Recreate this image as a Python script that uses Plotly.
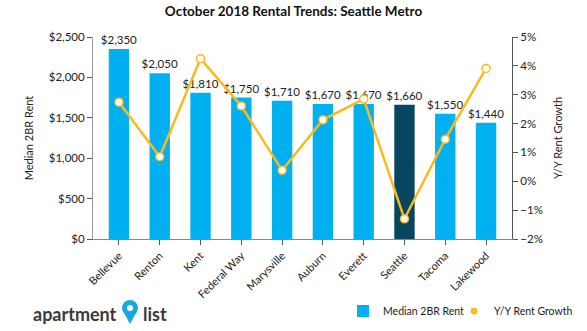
import plotly.graph_objects as go

cities = ["Bellevue", "Renton", "Kent", "Federal Way", "Marysville", "Auburn",
          "Everett", "Seattle", "Tacoma", "Lakewood"]
median_rent = [2350, 2050, 1810, 1750, 1710, 1670, 1670, 1660, 1550, 1440]
yoy_growth = [2.74, 0.85, 4.25, 2.61, 0.38, 2.13, 2.85, -1.30, 1.46, 3.91]

LIGHT = "#00b0f0"
DARK = "#06475f"
GOLD = "#fbb91e"
bar_colors = [DARK if c == "Seattle" else LIGHT for c in cities]
FONT = "Lato"

L, R, T, B = 93, 75, 37, 92
PW, PH = 587 - L - R, 331 - T - B


def px(x):
    return (x - L) / PW


def py(y):
    return (331 - B - y) / PH


fig = go.Figure()
fig.add_trace(go.Bar(
    x=cities, y=median_rent, name="Median 2BR Rent",
    marker=dict(color=bar_colors, line=dict(width=0)), width=0.5,
    text=[f"${v:,}" for v in median_rent], textposition="outside",
    constraintext="none",
    textfont=dict(size=11.5, color="#222", family=FONT), cliponaxis=False,
    yaxis="y", legend="legend",
))
fig.add_trace(go.Scatter(
    x=cities, y=yoy_growth, name="Y/Y Rent Growth", mode="lines+markers",
    line=dict(color=GOLD, width=2.5),
    marker=dict(size=8, color="white", line=dict(color=GOLD, width=1.5)),
    yaxis="y2", showlegend=False,
))
fig.add_trace(go.Scatter(
    x=[None], y=[None], name="Y/Y Rent Growth", mode="markers",
    marker=dict(size=7, color=GOLD), yaxis="y2", legend="legend2",
))

legend_common = dict(orientation="h", yanchor="middle", xanchor="left",
                     font=dict(size=10.5, family=FONT, color="#222"),
                     itemwidth=30, bgcolor="rgba(0,0,0,0)")

fig.update_layout(
    width=587, height=331,
    margin=dict(l=L, r=R, t=T, b=B, autoexpand=False),
    paper_bgcolor="white", plot_bgcolor="white",
    font=dict(family=FONT, color="#222", size=11),
    title=dict(text="<b>October 2018 Rental Trends: Seattle Metro</b>",
               x=0.5, xanchor="center", y=0.965, yanchor="middle",
               font=dict(size=13.5, family=FONT, color="#111")),
    showlegend=True,
    legend=dict(x=px(343), y=py(311), **legend_common),
    legend2=dict(x=px(454), y=py(311), **legend_common),
    xaxis=dict(showline=True, linecolor="#888", linewidth=1,
               ticks="outside", ticklen=5, tickcolor="#555",
               tickangle=-45, tickfont=dict(size=11, family=FONT, color="#222"),
               showgrid=False),
    yaxis=dict(range=[0, 2500], dtick=500, tickprefix="$", tickformat=",.0f",
               showline=True, linecolor="#999", linewidth=1,
               ticks="outside", ticklen=5, tickcolor="#555",
               showgrid=False, zeroline=False,
               tickfont=dict(size=11.5, family=FONT, color="#222"),
               title=dict(text="Median 2BR Rent", standoff=12,
                          font=dict(size=11, family=FONT, color="#222"))),
    yaxis2=dict(range=[-2, 5], dtick=1, ticksuffix="%", overlaying="y", side="right",
                showline=True, linecolor="#555", linewidth=1,
                ticks="outside", ticklen=5, tickcolor="#555",
                showgrid=False, zeroline=False,
                tickfont=dict(size=11.5, family=FONT, color="#222"),
                title=dict(text="Y/Y Rent Growth", standoff=12,
                           font=dict(size=11, family=FONT, color="#222"))),
)

# logo
fig.add_annotation(xref="paper", yref="paper", x=px(31), y=py(314),
                   xanchor="left", yanchor="middle", showarrow=False,
                   text="<b>apartment</b>", font=dict(size=18, family=FONT, color="#3a3a3a"))
fig.add_annotation(xref="paper", yref="paper", x=px(141), y=py(314),
                   xanchor="left", yanchor="middle", showarrow=False,
                   text="<b>list</b>", font=dict(size=18, family=FONT, color="#3a3a3a"))
fig.add_shape(type="circle", xref="paper", yref="paper",
              x0=px(122), x1=px(138), y0=py(316), y1=py(300),
              fillcolor="#1aa7e0", line=dict(width=0))
fig.add_shape(type="path", xref="paper", yref="paper",
              path=f"M {px(123)},{py(311)} L {px(130)},{py(324)} L {px(137)},{py(311)} Z",
              fillcolor="#1aa7e0", line=dict(width=0))
fig.add_shape(type="circle", xref="paper", yref="paper",
              x0=px(127), x1=px(133), y0=py(311), y1=py(305),
              fillcolor="white", line=dict(width=0))

fig.write_html("out.html")
